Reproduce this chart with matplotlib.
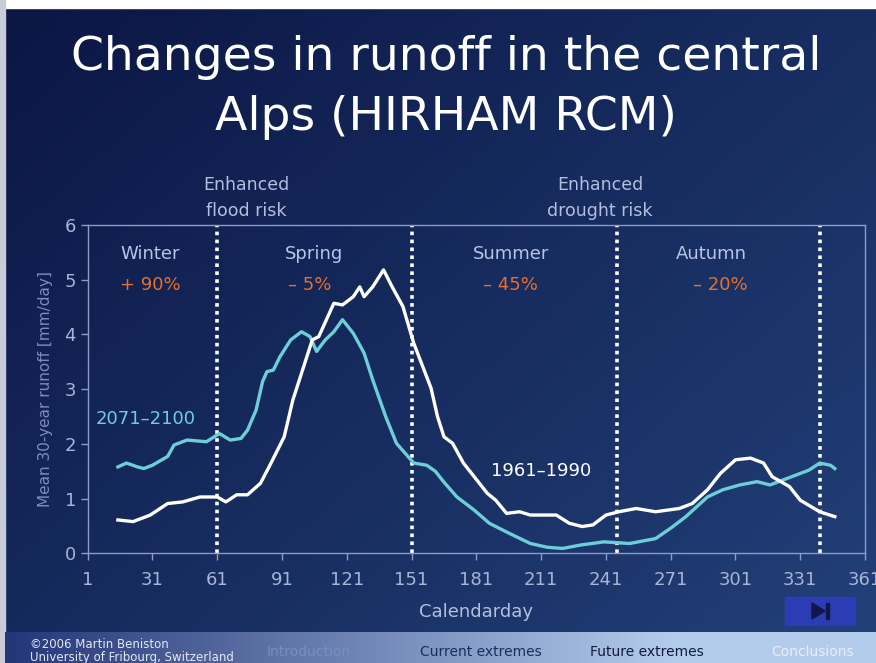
import matplotlib.pyplot as plt
import numpy as np
from matplotlib.patches import Rectangle, Polygon

# runoff (day of year, mm/day)
days_past = [15, 22, 30, 38, 45, 53, 61, 65, 70, 75, 81, 85, 92, 96, 101, 105, 108, 115,
             119, 124, 127, 129, 133, 138, 142, 147, 152, 160, 163, 166, 170, 175, 180,
             186, 190, 195, 201, 206, 218, 224, 230, 235, 241, 247, 255, 264, 275, 281,
             288, 294, 301, 308, 314, 318, 326, 331, 340, 347]
runoff_past = [0.61, 0.58, 0.70, 0.91, 0.94, 1.03, 1.03, 0.94, 1.07, 1.07, 1.28, 1.58,
               2.13, 2.80, 3.41, 3.90, 3.96, 4.57, 4.54, 4.69, 4.87, 4.69, 4.87, 5.18,
               4.87, 4.51, 3.84, 3.02, 2.50, 2.13, 2.01, 1.65, 1.40, 1.10, 0.97, 0.73,
               0.76, 0.70, 0.70, 0.55, 0.49, 0.52, 0.70, 0.76, 0.82, 0.76, 0.82, 0.91,
               1.16, 1.46, 1.71, 1.74, 1.65, 1.40, 1.22, 0.97, 0.76, 0.67]

days_future = [15, 19, 24, 27, 31, 38, 41, 47, 56, 62, 67, 72, 75, 79, 82, 84, 87, 90,
               95, 100, 104, 107, 111, 115, 119, 124, 129, 133, 139, 144, 152, 158, 162,
               166, 172, 180, 187, 196, 206, 214, 221, 229, 240, 252, 264, 271, 278, 288,
               295, 303, 311, 317, 323, 329, 335, 340, 345, 347]
runoff_future = [1.58, 1.65, 1.58, 1.55, 1.61, 1.77, 1.98, 2.07, 2.04, 2.19, 2.07, 2.10,
                 2.25, 2.62, 3.14, 3.32, 3.35, 3.59, 3.90, 4.05, 3.96, 3.69, 3.90, 4.05,
                 4.27, 4.02, 3.66, 3.17, 2.50, 2.01, 1.65, 1.61, 1.50, 1.30, 1.03, 0.79,
                 0.55, 0.37, 0.18, 0.11, 0.09, 0.15, 0.21, 0.18, 0.27, 0.46, 0.67, 1.03,
                 1.16, 1.25, 1.31, 1.25, 1.34, 1.43, 1.52, 1.65, 1.61, 1.55]

season_bounds = [61, 151, 246, 340]
seasons = ["Winter", "Spring", "Summer", "Autumn"]
season_x = [30, 106, 197, 290]
changes = ["+ 90%", "\u2013 5%", "\u2013 45%", "\u2013 20%"]
change_x = [30, 104, 197, 294]
xticks = [1, 31, 61, 91, 121, 151, 181, 211, 241, 271, 301, 331, 361]

fig = plt.figure(figsize=(8.76, 6.63), dpi=100)

# slide background
bg = fig.add_axes([0, 0, 1, 1])
bg.set_xlim(0, 876)
bg.set_ylim(663, 0)
bg.axis("off")
gx, gy = np.meshgrid(np.linspace(0, 1, 200), np.linspace(0, 1, 200))
t = 0.55 * gx + 0.45 * gy
c0 = np.array([0x0b, 0x16, 0x44]) / 255
c1 = np.array([0x22, 0x40, 0x78]) / 255
grad = c0 + (c1 - c0) * t[..., None]
bg.imshow(grad, extent=[0, 876, 632, 8], aspect="auto", zorder=0)
bg.add_patch(Rectangle((0, 0), 876, 8, color="white", zorder=1))
bg.add_patch(Rectangle((0, 0), 5, 663, color="#c8ccd8", zorder=1))
nx = np.linspace(0, 1, 300)[None, :]
n0 = np.array([0x24, 0x36, 0x78]) / 255
n1 = np.array([0xb4, 0xcc, 0xec]) / 255
nav = n0 + (n1 - n0) * np.clip(nx * 1.3, 0, 1)[..., None]
bg.imshow(nav, extent=[5, 876, 663, 632], aspect="auto", zorder=1)

# play button
bg.add_patch(Rectangle((785, 597), 70, 28, color="#2c3cb4", zorder=2))
bg.add_patch(Polygon([[812, 603], [812, 619], [825, 611]], color="#10184a", zorder=3))
bg.add_patch(Rectangle((826, 603), 3, 16, color="#10184a", zorder=3))

# title and notes
bg.text(446, 58, "Changes in runoff in the central", color="white", fontsize=34,
        ha="center", va="center")
bg.text(446, 117, "Alps (HIRHAM RCM)", color="white", fontsize=34,
        ha="center", va="center")
note = "#b4bee0"
bg.text(246, 185, "Enhanced", color=note, fontsize=12.5, ha="center", va="center")
bg.text(246, 211, "flood risk", color=note, fontsize=12.5, ha="center", va="center")
bg.text(600, 185, "Enhanced", color=note, fontsize=12.5, ha="center", va="center")
bg.text(600, 211, "drought risk", color=note, fontsize=12.5, ha="center", va="center")

bg.text(30, 644, "\u00a92006 Martin Beniston", color="#e4e8f4", fontsize=8.5,
        ha="left", va="center")
bg.text(30, 658, "University of Fribourg, Switzerland", color="#e4e8f4", fontsize=8.5,
        ha="left", va="center")
bg.text(309, 652, "Introduction", color="#7c8cc0", fontsize=10, ha="center", va="center")
bg.text(481, 652, "Current extremes", color="#1c2c60", fontsize=10, ha="center", va="center")
bg.text(647, 652, "Future extremes", color="#101c40", fontsize=10, ha="center", va="center")
bg.text(813, 652, "Conclusions", color="#e8eef8", fontsize=10, ha="center", va="center")

# chart
ax = fig.add_axes([0.1001, 0.1654, 0.8874, 0.4952])
ax.patch.set_alpha(0)
ax.set_xlim(1, 361)
ax.set_ylim(0, 6)

for d in season_bounds:
    ax.axvline(d, color="white", linestyle=(0, (1, 1.2)), lw=2.6, zorder=2)

ax.plot(days_future, runoff_future, color="#6ccfd8", lw=2.4, zorder=3)
ax.plot(days_past, runoff_past, color="white", lw=2.4, zorder=4)

for name, sx in zip(seasons, season_x):
    ax.text(sx, 5.47, name, color="#b8c4e8", fontsize=13, ha="center", va="center")
for ch, cx in zip(changes, change_x):
    ax.text(cx, 4.91, ch, color="#e8702c", fontsize=13, ha="center", va="center")

ax.text(28, 2.45, "2071\u20132100", color="#6ccfd8", fontsize=13, ha="center", va="center")
ax.text(211, 1.5, "1961\u20131990", color="white", fontsize=13, ha="center", va="center")

axis_col = "#8c9cc8"
for s in ax.spines.values():
    s.set_color(axis_col)
    s.set_linewidth(1)
ax.set_xticks(xticks)
ax.set_yticks(range(7))
ax.tick_params(colors=axis_col, labelcolor="#a8b4d8", labelsize=13, length=5, width=1)
ax.tick_params(axis="x", pad=8)
ax.set_xlabel("Calendarday", color="#b4bee0", fontsize=13, labelpad=10)
ax.set_ylabel("Mean 30-year runoff [mm/day]", color="#7c8cc0", fontsize=11, labelpad=8)

fig.savefig("out.png", dpi=100)
